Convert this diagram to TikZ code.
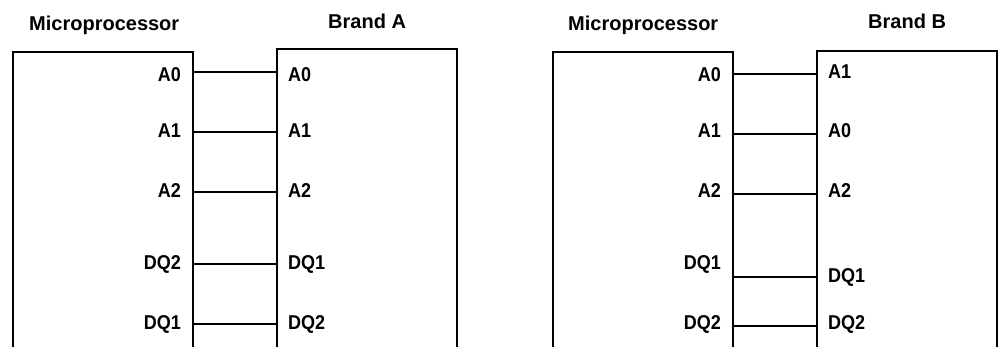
\documentclass[tikz,border=0pt]{standalone}
\usepackage{fontspec}
\setmainfont{Liberation Sans}
\newcommand{\pinlabel}[1]{\scalebox{0.9}[1]{#1}}
\begin{document}
\begin{tikzpicture}[x=1pt,y=-1pt,
  chip/.style={draw, line width=2.2pt, rectangle, minimum width=180pt, minimum height=420pt, anchor=north west, inner sep=0pt},
  wire/.style={line width=1.8pt},
  lbl/.style={font=\bfseries\fontsize{20}{22}\selectfont, inner sep=0pt},
  ttl/.style={font=\bfseries\fontsize{20}{22}\selectfont, inner sep=0pt, anchor=base west}]
\useasboundingbox (0,0) rectangle (1000,346);
\clip (0,0) rectangle (1000,346);
% ---------- left panel ----------
\node[ttl] (t1) at (29,30) {Microprocessor};
\node[ttl] (t2) at (328,28) {Brand A};
\node[chip] (mpA) at (12,51) {};
\node[chip] (brA) at (276,48) {};
\foreach \n/\t/\yy in {a0/A0/81, a1/A1/137, a2/A2/197, a3/DQ2/269, a4/DQ1/329}
  \node[lbl, anchor=base east] (mA\n) at (181,\yy) {\pinlabel{\t}};
\foreach \n/\t/\yy in {a0/A0/81, a1/A1/137, a2/A2/197, a3/DQ1/269, a4/DQ2/329}
  \node[lbl, anchor=base west] (bA\n) at (288,\yy) {\pinlabel{\t}};
\foreach \yy in {72,132,192,264,324}
  \draw[wire] (mpA.east |- 0,\yy) -- (brA.west |- 0,\yy);
% ---------- right panel ----------
\node[ttl] (t3) at (568,30) {Microprocessor};
\node[ttl] (t4) at (868,28) {Brand B};
\node[chip] (mpB) at (552,51) {};
\node[chip] (brB) at (816,50) {};
\foreach \n/\t/\yy in {b0/A0/81, b1/A1/137, b2/A2/197, b3/DQ1/269, b4/DQ2/329}
  \node[lbl, anchor=base east] (mB\n) at (721,\yy) {\pinlabel{\t}};
\foreach \n/\t/\yy in {b0/A1/78, b1/A0/137, b2/A2/197, b3/DQ1/282, b4/DQ2/329}
  \node[lbl, anchor=base west] (bB\n) at (828,\yy) {\pinlabel{\t}};
\foreach \yy in {74,134,194,277,326}
  \draw[wire] (mpB.east |- 0,\yy) -- (brB.west |- 0,\yy);
\end{tikzpicture}
\end{document}
